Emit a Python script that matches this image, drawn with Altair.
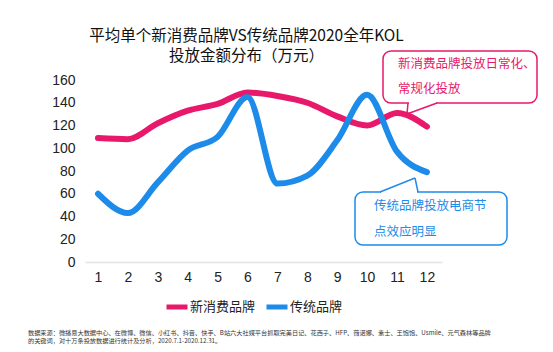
import altair as alt
import pandas as pd

# ---------------- data ----------------
months = list(range(1, 13))
series_names = ["新消费品牌", "传统品牌"]
new_brand = [109, 108, 122, 133, 139, 149, 146, 140, 128, 120, 131, 119]
traditional = [60, 43, 70, 98, 110, 145, 69, 76, 107, 147, 97, 79]
y_ticks = [0, 20, 40, 60, 80, 100, 120, 140, 160]

title_lines = ["平均单个新消费品牌VS传统品牌2020全年KOL", "投放金额分布（万元）"]
pink_note = ["新消费品牌投放日常化、", "常规化投放"]
blue_note = ["传统品牌投放电商节", "点效应明显"]
footnote = [
    "数据来源：微播易大数据中心、在微博、微信、小红书、抖音、快手、B站六大社媒平台抓取完美日记、花西子、HFP、薇诺娜、素士、王饱饱、Usmile、元气森林等品牌",
    "的关键词，对十万条投放数据进行统计及分析，2020.7.1-2020.12.31。",
]

PINK = "#E8196A"
BLUE = "#1C8BEA"
CJK = "Noto Sans CJK SC"

df = pd.DataFrame({
    "month": months * 2,
    "value": new_brand + traditional,
    "series": [series_names[0]] * 12 + [series_names[1]] * 12,
})
one = pd.DataFrame({"k": [0]})

lines = alt.Chart(df).mark_line(strokeWidth=6, interpolate="monotone", strokeCap="round").encode(
    x=alt.X("month:Q", scale=alt.Scale(domain=[0.565, 12.505], nice=False, zero=False),
            axis=alt.Axis(values=months, title=None, grid=False, ticks=False, domain=True,
                          domainColor="#e3e3e3", domainWidth=1.5, labelFontSize=14,
                          labelFont="Liberation Sans", labelColor="#222", labelPadding=8)),
    y=alt.Y("value:Q", scale=alt.Scale(domain=[0, 160], nice=False),
            axis=alt.Axis(values=y_ticks, title=None, grid=False, ticks=False, domain=False,
                          labelFontSize=14, labelFont="Liberation Sans", labelColor="#222",
                          labelPadding=10)),
    color=alt.Color("series:N", scale=alt.Scale(domain=series_names, range=[PINK, BLUE]),
                    legend=alt.Legend(orient="none", legendX=79, legendY=214, direction="horizontal",
                                      title=None, symbolType="stroke", symbolStrokeWidth=5,
                                      symbolSize=441, labelFontSize=13, labelFont=CJK,
                                      labelColor="#222", labelOffset=0, columnPadding=0,
                                      padding=0)),
    detail="series:N",
)


def box(x1, x2, y1, y2, color):
    return alt.Chart(one).mark_rect(cornerRadius=8, fill="white", stroke=color, strokeWidth=1.5).encode(
        x=alt.value(x1), x2=alt.value(x2), y=alt.value(y1), y2=alt.value(y2))


def seg(x1, y1, x2, y2, color, w=1.5):
    return alt.Chart(one).mark_rule(color=color, strokeWidth=w).encode(
        x=alt.value(x1), y=alt.value(y1), x2=alt.value(x2), y2=alt.value(y2))


def label(x, y, txt, color, size):
    return alt.Chart(one).mark_text(align="left", baseline="middle", fontSize=size, font=CJK,
                                    color=color, text=txt).encode(x=alt.value(x), y=alt.value(y))


# pink callout
pink_layers = [
    box(298, 452, -29, 23, PINK),
    seg(324, 23, 351, 23, "white", 3),
    seg(323, 23, 322, 34, PINK),
    seg(322, 34, 352, 23, PINK),
    label(313, -16, pink_note[0], PINK, 12.5),
    label(313, 9, pink_note[1], PINK, 12.5),
]
# blue callout
blue_layers = [
    box(270, 422, 112, 165, BLUE),
    seg(296, 112, 332, 112, "white", 3),
    seg(295, 112, 330, 98, BLUE),
    seg(330, 98, 333, 112, BLUE),
    label(289, 126, blue_note[0], BLUE, 12.5),
    label(289, 152, blue_note[1], BLUE, 12.5),
]
foot_layers = [
    label(-57, 253, footnote[0], "#333", 6.2),
    label(-57, 261, footnote[1], "#333", 6.2),
]

chart = alt.layer(lines, *pink_layers, *blue_layers, *foot_layers).properties(
    width=357, height=182,
    autosize=alt.AutoSizeParams(type="none"),
    padding={"left": 85, "top": 80, "right": 111, "bottom": 90},
    background="white",
    title=alt.Title(text=title_lines, fontSize=15.5, font=CJK, fontWeight="normal", color="#111",
                    anchor="middle", dx=-17, dy=28, offset=14, lineHeight=20),
).configure_view(stroke=None)

chart.save("out.html", embed_options={"renderer": "svg", "actions": False})
